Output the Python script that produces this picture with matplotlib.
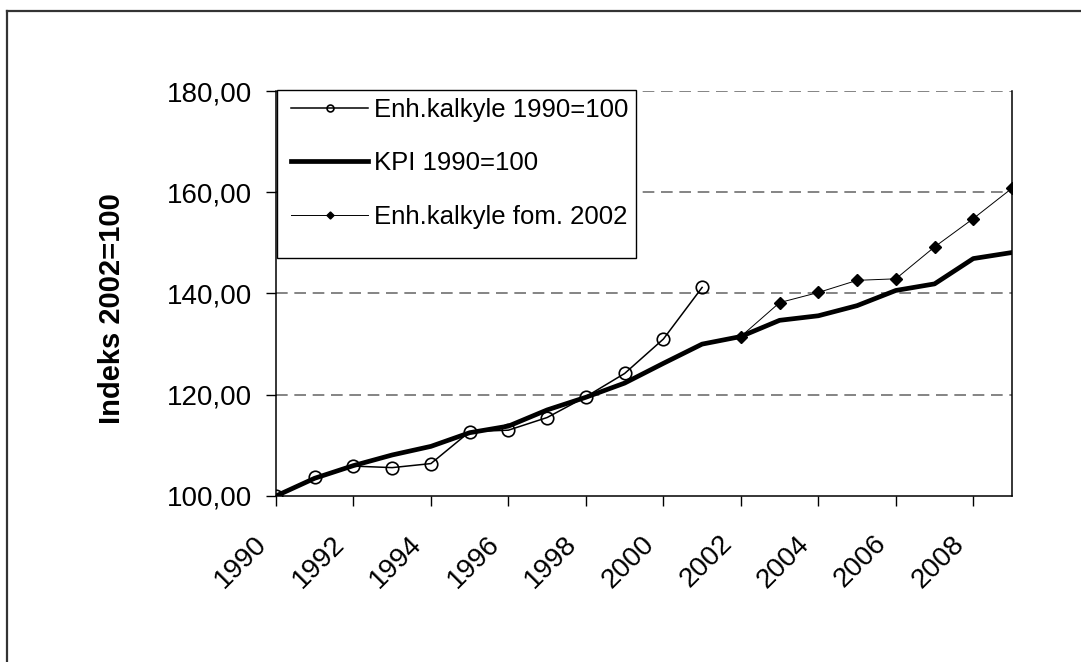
import matplotlib
matplotlib.use("Agg")
import matplotlib.pyplot as plt
from matplotlib.patches import Rectangle
from matplotlib.lines import Line2D
from matplotlib.transforms import ScaledTranslation

plt.rcParams['font.family'] = ['Liberation Sans', 'DejaVu Sans']

# data
years_enh = [1990, 1991, 1992, 1993, 1994, 1995, 1996, 1997, 1998, 1999, 2000, 2001]
enh_1990 = [100.0, 103.7, 105.9, 105.6, 106.4, 112.7, 113.0, 115.5, 119.6, 124.2, 131.0, 141.2]

years_kpi = list(range(1990, 2010))
kpi_1990 = [100.0, 103.5, 106.0, 108.1, 109.8, 112.5, 113.8, 117.0, 119.5, 122.3,
            126.2, 130.0, 131.5, 134.7, 135.6, 137.6, 140.6, 141.9, 146.9, 148.1]

years_fom = list(range(2002, 2010))
enh_fom = [131.5, 138.2, 140.2, 142.6, 142.9, 149.2, 154.8, 160.8]

xticks = list(range(1990, 2009, 2))
yticks = [100, 120, 140, 160, 180]

fig = plt.figure(figsize=(10.81, 6.62), dpi=100)
ax = fig.add_axes([0.2553, 0.2508, 0.6809, 0.6117])

# outer chart border (only top and left visible in the crop)
fig.add_artist(Line2D([7 / 1081, 7 / 1081], [0, 1 - 11 / 662], transform=fig.transFigure,
                      color='#333333', lw=1.6))
fig.add_artist(Line2D([7 / 1081, 1], [1 - 11 / 662, 1 - 11 / 662], transform=fig.transFigure,
                      color='#333333', lw=1.6))

for y in yticks[1:]:
    ax.axhline(y, color='#707070', lw=1.2, ls=(0, (7, 4)), zorder=1)

ax.plot(years_enh, enh_1990, color='black', lw=1.1, marker='o', ms=9,
        mfc='none', mec='black', mew=1.2, label='Enh.kalkyle 1990=100', zorder=4)
ax.plot(years_kpi, kpi_1990, color='black', lw=3.4, label='KPI 1990=100', zorder=3)
ax.plot(years_fom, enh_fom, color='black', lw=0.7, marker='D', ms=6.5,
        mfc='black', mec='black', label='Enh.kalkyle fom. 2002', zorder=4)

ax.set_xlim(1990, 2009)
ax.set_ylim(100, 180)
ax.set_xticks(xticks)
ax.set_xticklabels([str(x) for x in xticks], rotation=45, ha='right', va='center',
                   rotation_mode='anchor', fontsize=20)
ax.set_yticks(yticks)
ax.set_yticklabels([f"{y:.2f}".replace('.', ',') for y in yticks], fontsize=20)
ax.tick_params(axis='both', direction='out', length=7, width=1, color='black')
ax.tick_params(axis='x', pad=26)
ax.tick_params(axis='y', pad=10)

# nudge rotated year labels a bit to the left (after tick_params, which resets transforms)
shift = ScaledTranslation(-0.13, 0.02, fig.dpi_scale_trans)
for tick in ax.xaxis.get_major_ticks():
    tick.label1.set_transform(tick.label1.get_transform() + shift)

ax.spines['top'].set_visible(False)
for s in ['left', 'right', 'bottom']:
    ax.spines[s].set_color('black')
    ax.spines[s].set_linewidth(1.1)

ax.set_ylabel('Indeks 2002=100', fontsize=21, fontweight='bold')
ax.yaxis.set_label_coords(-0.204, 0.462)

# legend box (Excel-style, with extra space at the bottom)
box = Rectangle(((277 - 276) / 736, 1 - (258 - 91) / 405), (636 - 277) / 736, (258 - 90) / 405,
                transform=ax.transAxes, facecolor='white', edgecolor='black', lw=1.0,
                zorder=5, clip_on=False)
ax.add_patch(box)
leg = ax.legend(loc='upper left', bbox_to_anchor=(0.0, 1.022), frameon=False,
                fontsize=18.5, handlelength=3.0, handletextpad=0.2, labelspacing=1.15,
                markerscale=0.55, borderaxespad=0.2)
leg.set_zorder(6)

fig.savefig('out.png', dpi=100)
